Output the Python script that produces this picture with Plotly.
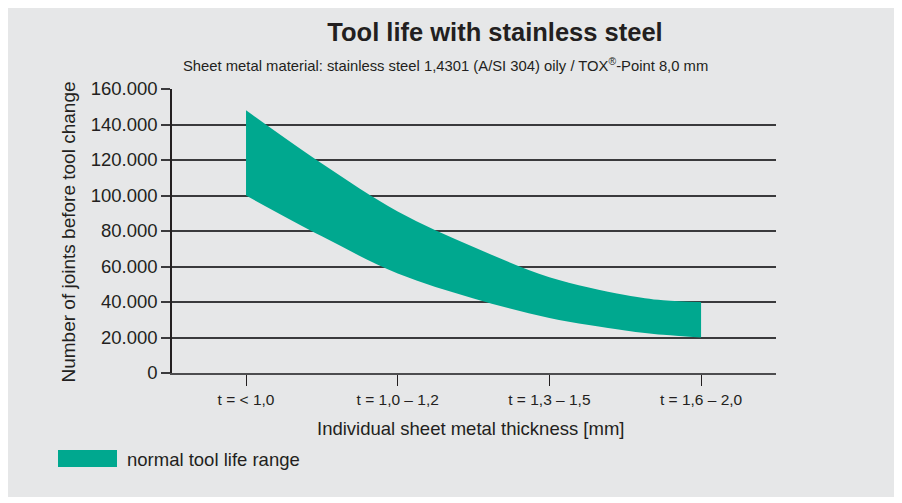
import plotly.graph_objects as go

# ---- data ----
categories = ["t = < 1,0", "t = 1,0 – 1,2", "t = 1,3 – 1,5", "t = 1,6 – 2,0"]
curve_pos = [0, 0.5, 1.0, 1.5, 2.0, 2.5, 2.75, 3.0]          # position along category axis
upper_values = [148000, 118000, 91000, 71000, 54000, 44000, 41000, 40000]
lower_values = [100000, 77000, 56000, 42000, 31000, 24000, 21500, 20000]
y_ticks = [0, 20000, 40000, 60000, 80000, 100000, 120000, 140000, 160000]
y_tick_labels = ["0", "20.000", "40.000", "60.000", "80.000", "100.000", "120.000", "140.000", "160.000"]

TEAL = "#00a88f"
BG = "#e6e7e8"
FONT = "Liberation Sans, Arial, sans-serif"
TXT = "#231f20"

W, H = 886, 489
L, R, T, B = 164, 768, 81, 365   # plot area in figure pixels


def px(x):
    return (x - L) / (R - L)


def py(y):
    return (B - y) / (B - T)


fig = go.Figure()
fig.add_trace(go.Scatter(x=curve_pos, y=lower_values, mode="lines",
                         line=dict(width=0, shape="spline", color=TEAL),
                         showlegend=False, hoverinfo="skip"))
fig.add_trace(go.Scatter(x=curve_pos, y=upper_values, mode="lines",
                         line=dict(width=0, shape="spline", color=TEAL),
                         fill="tonexty", fillcolor=TEAL,
                         showlegend=False, name="normal tool life range"))

fig.update_layout(
    width=W, height=H,
    paper_bgcolor=BG, plot_bgcolor=BG,
    margin=dict(l=L, r=W - R, t=T, b=H - B, pad=0),
    font=dict(family=FONT, color=TXT),
    showlegend=False,
    title=dict(text="<b>Tool life with stainless steel</b>", x=487 / W, xanchor="center",
               y=1 - 24 / H, yanchor="middle", font=dict(size=25.5, color=TXT)),
)

fig.update_xaxes(
    range=[-0.488, 3.494], tickmode="array", tickvals=list(range(len(categories))),
    ticktext=categories, showgrid=False, zeroline=False,
    showline=True, linecolor="#4d4d4f", linewidth=2,
    ticks="outside", ticklen=11, tickwidth=1, tickcolor="#231f20",
    tickfont=dict(size=15.5, family=FONT, color=TXT),
)
fig.update_yaxes(
    range=[0, 160000], tickmode="array", tickvals=y_ticks, ticktext=y_tick_labels,
    showgrid=True, gridcolor="#3a3a3c", gridwidth=1.5, zeroline=False,
    showline=True, linecolor="#231f20", linewidth=1.5,
    ticks="outside", ticklen=9, tickwidth=1.5, tickcolor="#3a3a3c",
    tickfont=dict(size=18.5, family=FONT, color=TXT),
)

# subtitle
fig.add_annotation(text="Sheet metal material: stainless steel 1,4301 (A/SI 304) oily / TOX<sup>®</sup>-Point 8,0 mm",
                   xref="paper", yref="paper", x=px(437), y=py(57), xanchor="center", yanchor="middle",
                   showarrow=False, font=dict(size=14.8, family=FONT, color=TXT))

# axis titles
fig.add_annotation(text="Number of joints before tool change", textangle=-90,
                   xref="paper", yref="paper", x=px(60), y=py(224.5), xanchor="center", yanchor="middle",
                   showarrow=False, font=dict(size=19, family=FONT, color=TXT))
fig.add_annotation(text="Individual sheet metal thickness [mm]",
                   xref="paper", yref="paper", x=px(462), y=py(420), xanchor="center", yanchor="middle",
                   showarrow=False, font=dict(size=18.5, family=FONT, color=TXT))

# legend swatch + label
fig.add_shape(type="rect", xref="paper", yref="paper",
              x0=px(50), x1=px(109), y0=py(459), y1=py(442),
              fillcolor=TEAL, line=dict(width=0))
fig.add_annotation(text="normal tool life range", xref="paper", yref="paper",
                   x=px(117), y=py(451), xanchor="left", yanchor="middle",
                   showarrow=False, font=dict(size=18.5, family=FONT, color=TXT))

fig.write_html("out.html")
